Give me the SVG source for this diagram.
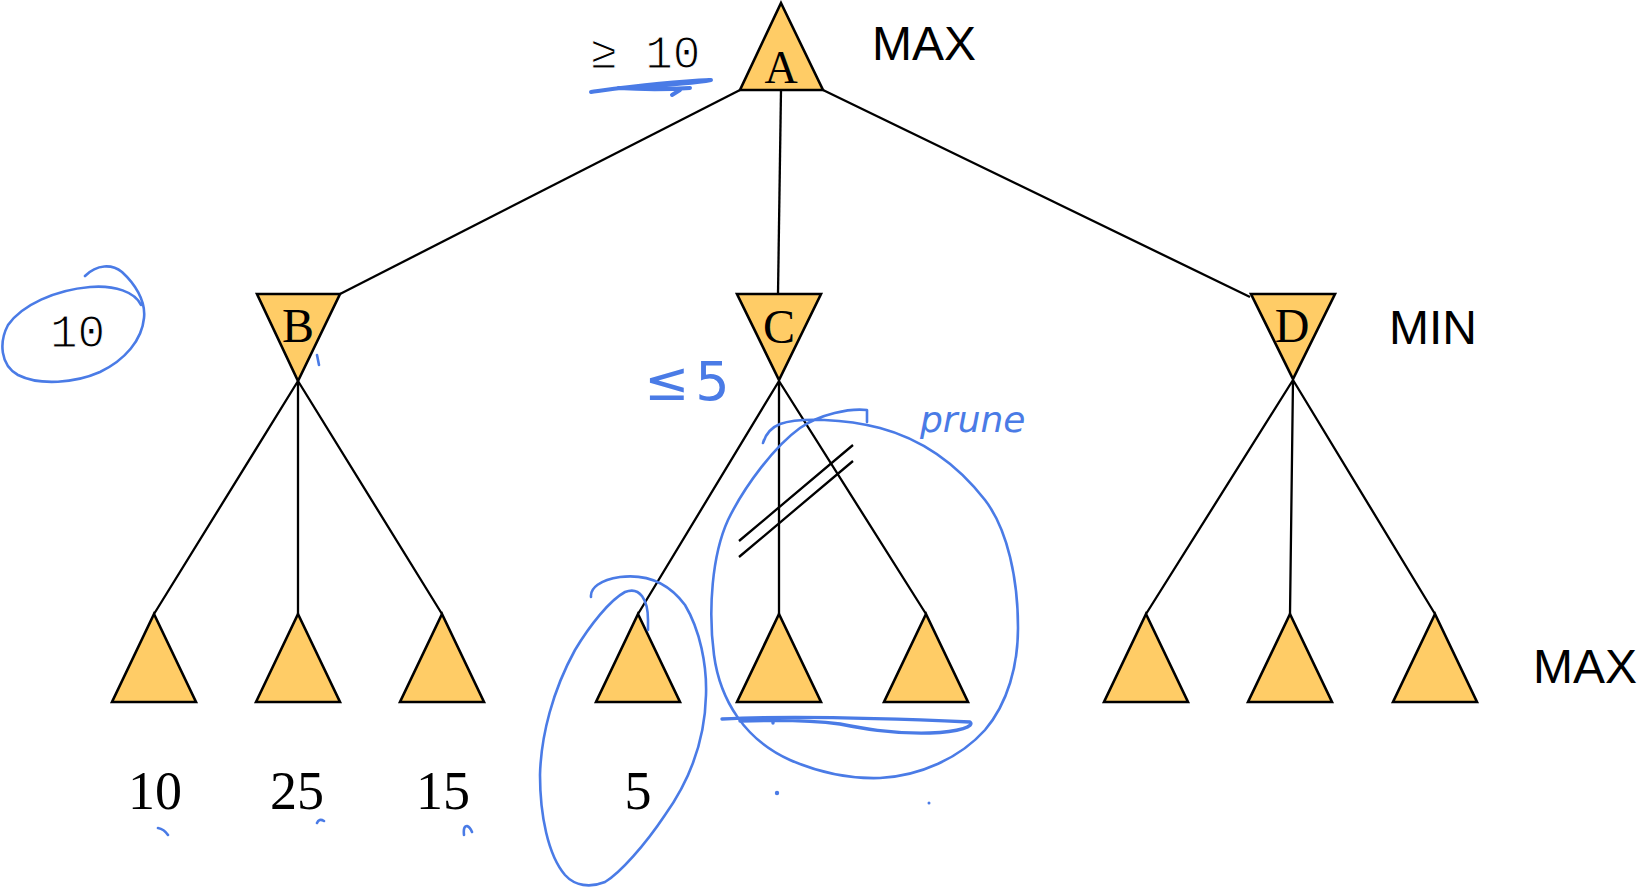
<svg xmlns="http://www.w3.org/2000/svg" width="1642" height="887" viewBox="0 0 1642 887">
<style>
.tri{fill:#FFCC66;stroke:#000;stroke-width:2.6;stroke-linejoin:miter}
.edge{stroke:#000;stroke-width:2.3;fill:none}
.lbl{font-family:"Liberation Serif","Times New Roman",serif;font-size:48px;fill:#000;text-anchor:middle}
.val{font-family:"Liberation Serif","Times New Roman",serif;font-size:54px;fill:#000;text-anchor:middle}
.lvl{font-family:"Liberation Sans",Arial,sans-serif;font-size:48px;fill:#000}
.mono{font-family:"Liberation Mono","Courier New",monospace;font-size:46px;fill:#000;stroke:#fff;stroke-width:1.1px}
.ink{fill:none;stroke:#4a7be6;stroke-width:2.6;stroke-linecap:round;stroke-linejoin:round}
.hand{font-family:"DejaVu Sans",sans-serif;fill:#4a7be6}
</style>
<rect width="1642" height="887" fill="#fff"/>
<g id="connectors">
<path class="edge" d="M740,90 L340,294"/>
<path class="edge" d="M781,90 L778,294"/>
<path class="edge" d="M823,90 L1250,297"/>
<path class="edge" d="M298,381 L154,614 M298,381 L298,614 M298,381 L442,614"/>
<path class="edge" d="M779,381 L638,614 M779,381 L779,614 M779,381 L926,614"/>
<path class="edge" d="M1293,380 L1146,614 M1293,380 L1290,614 M1293,380 L1435,614"/>
<path class="edge" d="M739,541 L853,445 M739,557 L853,461"/>
</g>
<g id="A"><polygon class="tri" points="781,3 823,90 740,90"/><text class="lbl" x="781" y="83" style="font-size:46px">A</text></g>
<g id="B"><polygon class="tri" points="257,294 340,294 298,381"/><text class="lbl" x="298" y="342">B</text></g>
<g id="C"><polygon class="tri" points="737,294 821,294 779,380"/><text class="lbl" x="779" y="343">C</text></g>
<g id="D"><polygon class="tri" points="1251,294 1335,294 1293,379"/><text class="lbl" x="1292" y="342">D</text></g>
<g id="L1"><polygon class="tri" points="154,614 196,702 112,702"/></g>
<g id="L2"><polygon class="tri" points="298,614 340,702 256,702"/></g>
<g id="L3"><polygon class="tri" points="442,614 484,702 400,702"/></g>
<g id="L4"><polygon class="tri" points="638,614 680,702 596,702"/></g>
<g id="L5"><polygon class="tri" points="779,614 821,702 737,702"/></g>
<g id="L6"><polygon class="tri" points="926,614 968,702 884,702"/></g>
<g id="L7"><polygon class="tri" points="1146,614 1188,702 1104,702"/></g>
<g id="L8"><polygon class="tri" points="1290,614 1332,702 1248,702"/></g>
<g id="L9"><polygon class="tri" points="1435,614 1477,702 1393,702"/></g>
<g id="values">
<text class="val" x="155" y="809">10</text>
<text class="val" x="297" y="809">25</text>
<text class="val" x="443" y="809">15</text>
<text class="val" x="638" y="809">5</text>
</g>
<g id="levels">
<text class="lvl" x="872" y="60">MAX</text>
<text class="lvl" x="1389" y="344">MIN</text>
<text class="lvl" x="1533" y="683">MAX</text>
</g>
<g id="typed">
<text class="mono" x="590" y="68" xml:space="preserve">≥ 10</text>
<text class="mono" x="50" y="347">10</text>
</g>
<g id="annotations">
<path class="ink" style="stroke-width:4" d="M591,92 C620,88 660,82 711,80 C690,84 650,86 618,88 C650,90 675,89 690,88 M672,95 L680,90"/>
<path class="ink" d="M85,276 C97,264 112,264 122,272 C134,283 146,300 144,318 C142,340 125,360 100,372 C75,383 40,386 18,375 C0,365 -1,342 8,325 C22,305 55,290 90,287 C115,285 135,292 141,305"/>
<path class="ink" d="M317,355 L319,365"/>
<path class="ink" d="M867,422 L867,410 C850,408 820,414 800,428 C775,446 745,485 728,520 C712,555 708,610 714,655 C720,700 745,740 790,760 C820,773 850,779 880,778 C920,776 960,758 985,730 C1008,703 1018,665 1018,628 C1018,580 1008,530 985,500 C960,468 925,440 880,428 C845,419 800,417 780,424 C770,428 765,436 763,443"/>
<path class="ink" style="stroke-width:3.4" d="M722,719 C780,716 880,718 970,722 C975,726 960,732 930,733 C890,734 860,728 840,724 C810,720 770,720 740,721 M773,720 L773,723"/>
<path class="ink" d="M591,597 C590,588 600,580 620,577 C645,574 668,582 685,605 C700,630 707,665 706,695 C705,740 690,780 665,815 C645,845 620,873 605,882 C590,888 575,886 565,875 C548,855 540,815 540,775 C541,735 553,690 575,650 C590,625 610,600 625,592 C640,586 648,600 648,620 L648,630"/>
<path class="ink" d="M158,828 Q164,829 168,835 M317,823 Q319,818 324,821 M464,835 Q463,826 467,826 Q470,827 472,832"/>
<circle cx="777" cy="793" r="2.2" fill="#4a7be6"/>
<circle cx="929" cy="803" r="1.5" fill="#4a7be6"/>
<text class="hand" x="644" y="400" style="font-size:54px;letter-spacing:6px">≤5</text>
<text class="hand" x="920" y="432" style="font-size:36px;font-style:italic">prune</text>
</g>
</svg>
